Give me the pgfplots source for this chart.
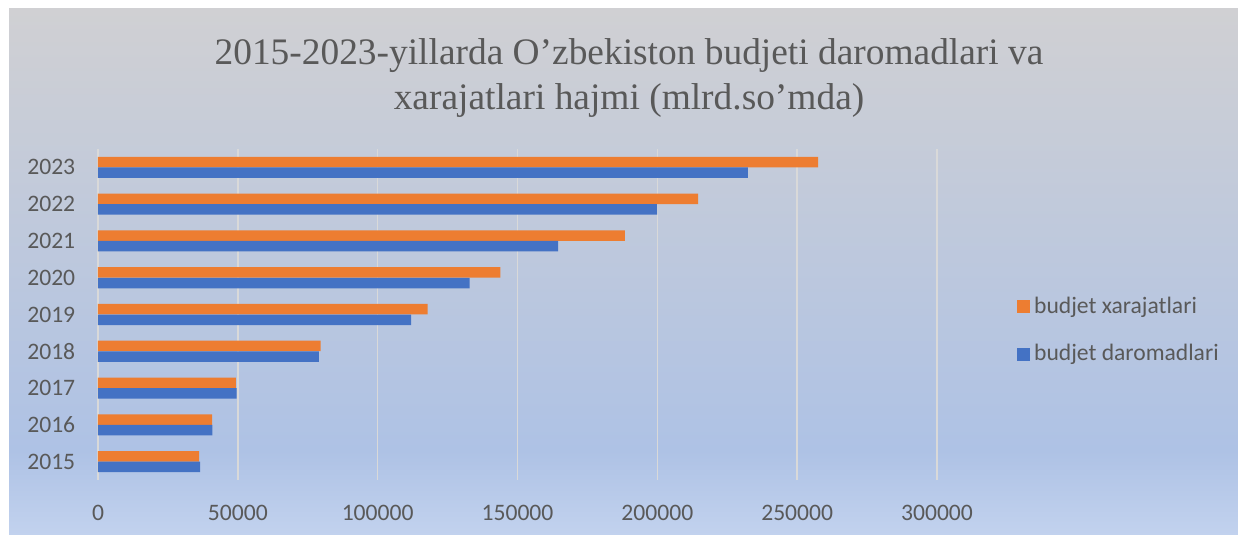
\documentclass[border=0pt]{standalone}
\usepackage{fontspec}
\setmainfont{Carlito}
\newfontfamily\titlefont{Liberation Serif}
\usepackage{pgfplots}
\pgfplotsset{compat=1.18}
\definecolor{textc}{HTML}{595959}
\definecolor{gridc}{HTML}{D9D9D9}
\definecolor{orng}{HTML}{ED7D31}
\definecolor{blu}{HTML}{4472C4}
\definecolor{ctop}{HTML}{D0D0D3}
\definecolor{cmid}{HTML}{AEC2E5}
\definecolor{cbot}{HTML}{C2D2EE}
\pgfdeclareverticalshading{bgshade}{100bp}{color(0bp)=(cbot); color(25bp)=(cbot); color(33bp)=(cmid); color(75bp)=(ctop); color(100bp)=(ctop)}
\begin{document}
\begin{tikzpicture}
\useasboundingbox (0,0) rectangle (619pt,267.5pt);
\shade[shading=bgshade] (4.5pt,0pt) rectangle (619pt,263pt);
\node[anchor=base, font=\titlefont\fontsize{18.7}{22}\selectfont, text=textc] at (314.5pt,235pt) {2015-2023-yillarda O’zbekiston budjeti daromadlari va};
\node[anchor=base, font=\titlefont\fontsize{18.7}{22}\selectfont, text=textc] at (314.5pt,212.5pt) {xarajatlari hajmi (mlrd.so’mda)};
\begin{axis}[
  at={(49pt,27.5pt)}, anchor=south west,
  scale only axis, width=419.5pt, height=165.5pt,
  xbar, bar width=5.25pt,
  xmin=0, xmax=300000, ymin=2014.5, ymax=2023.5,
  xtick={0,50000,100000,150000,200000,250000,300000},
  ytick={2015,2016,2017,2018,2019,2020,2021,2022,2023},
  scaled x ticks=false,
  /pgf/number format/.cd, 1000 sep={}, fixed, assume math mode=true, /pgfplots/.cd,
  axis line style={draw=none}, major tick style={draw=none},
  xmajorgrids, major grid style={color=gridc, line width=0.75pt},
  tick label style={font=\fontsize{11.8}{14}\selectfont, text=textc},
  xticklabel style={yshift=-9pt},
  yticklabel style={xshift=-3.6pt},
  legend image code/.code={\fill[#1,draw=none] (0pt,-3.25pt) rectangle (6.5pt,3.25pt);},
  legend style={at={(1.095,0.452)}, anchor=west, draw=none, fill=none, inner sep=0pt,
    font=\fontsize{11.8}{14}\selectfont, text=textc, row sep=10pt,
    /tikz/every even column/.append style={column sep=0pt}},
  legend cell align=left,
]
\addplot[fill=orng, draw=none, bar shift=2.65pt] coordinates {
 (36200,2015) (40800,2016) (49300,2017) (79600,2018) (117900,2019)
 (143900,2020) (188400,2021) (214600,2022) (257500,2023)};
\addplot[fill=blu, draw=none, bar shift=-2.65pt] coordinates {
 (36500,2015) (40900,2016) (49600,2017) (79000,2018) (112000,2019)
 (132900,2020) (164500,2021) (199900,2022) (232400,2023)};
\legend{budjet xarajatlari, budjet daromadlari}
\end{axis}
\end{tikzpicture}
\end{document}
